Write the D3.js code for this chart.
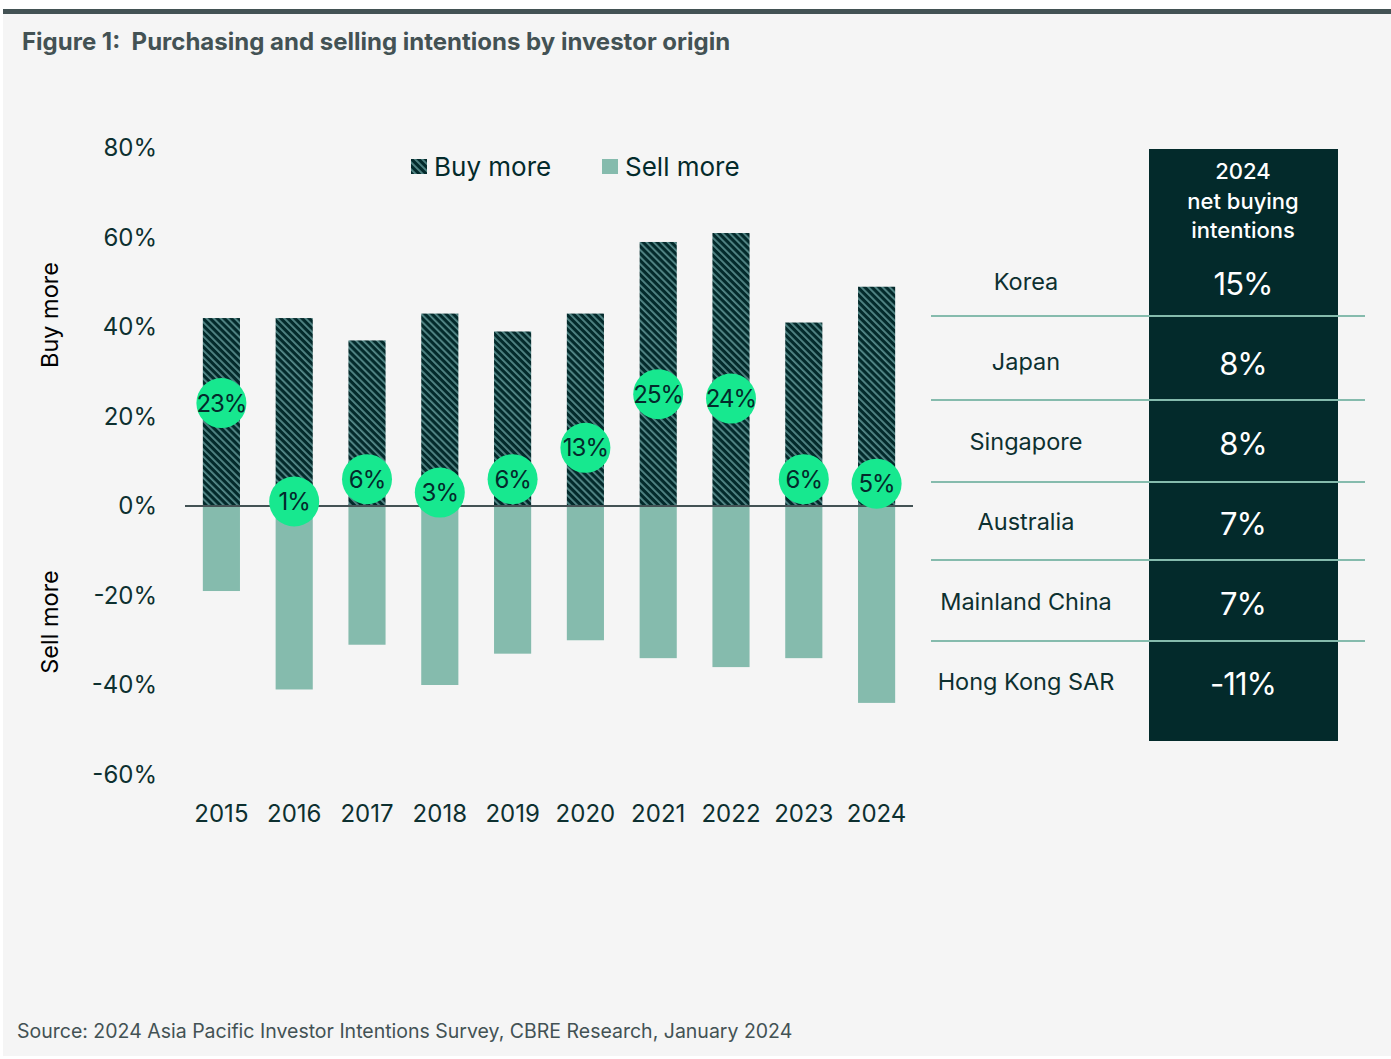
<!DOCTYPE html>
<html><head><meta charset="utf-8">
<script src="https://cdn.jsdelivr.net/npm/d3@7/dist/d3.min.js"></script>
<style>
html,body{margin:0;padding:0;background:#fff;}
svg{display:block;font-family:Inter,Roboto,"Noto Sans",sans-serif;}
</style></head>
<body>
<script>
const years = ["2015","2016","2017","2018","2019","2020","2021","2022","2023","2024"];
const buyMore = [42,42,37,43,39,43,59,61,41,49];
const sellMore = [-19,-41,-31,-40,-33,-30,-34,-36,-34,-44];
const netLabels = [23,1,6,3,6,13,25,24,6,5];
const yTicks = [80,60,40,20,0,-20,-40,-60];
const origins = ["Korea","Japan","Singapore","Australia","Mainland China","Hong Kong SAR"];
const netBuying2024 = [15,8,8,7,7,-11];
const tableHeader = ["2024","net buying","intentions"];

const W = 1391, H = 1059;
const svg = d3.select("body").append("svg").attr("width", W).attr("height", H);

// background
svg.append("rect").attr("x",3).attr("y",9).attr("width",W-3).attr("height",H-12).attr("fill","#f5f5f5");
svg.append("rect").attr("x",3).attr("y",9).attr("width",W-3).attr("height",5).attr("fill","#435254");

// title
svg.append("text").attr("x",22).attr("y",50).attr("font-size",24).attr("font-weight",700)
  .attr("fill","#435254").attr("xml:space","preserve").text("Figure 1:  Purchasing and selling intentions by investor origin");

// pattern
const defs = svg.append("defs");
const pat = defs.append("pattern").attr("id","hatch").attr("patternUnits","userSpaceOnUse")
  .attr("width",5).attr("height",5).attr("patternTransform","rotate(-45)");
pat.append("rect").attr("width",5).attr("height",5).attr("fill","#032a2b");
pat.append("rect").attr("x",0).attr("width",1.8).attr("height",5).attr("fill","#568a8a");

const x = d3.scaleBand().domain(years).range([185,913]).paddingInner(0.49).paddingOuter(0.245);
const y = d3.scaleLinear().domain([-60,80]).range([774.5,148]);

// y tick labels
const yAxis = d3.axisLeft(y).tickValues(yTicks).tickFormat(d => d + "%").tickSize(0).tickPadding(0);
const ya = svg.append("g").attr("transform","translate(157,0)").call(yAxis);
ya.select(".domain").remove();
ya.selectAll("text").attr("font-size",24).attr("fill","#0d3030").attr("font-family","Inter,sans-serif");

// axis titles
svg.append("text").attr("transform","translate(58,315) rotate(-90)").attr("text-anchor","middle")
  .attr("font-size",23.5).attr("fill","#000").text("Buy more");
svg.append("text").attr("transform","translate(58,622) rotate(-90)").attr("text-anchor","middle")
  .attr("font-size",23.5).attr("fill","#000").text("Sell more");

// bars
const data = years.map((yr,i)=>({yr, buy:buyMore[i], sell:sellMore[i], net:netLabels[i]}));
svg.append("g").selectAll("rect").data(data).join("rect")
  .attr("x", d=>x(d.yr)).attr("width", x.bandwidth())
  .attr("y", d=>y(d.buy)).attr("height", d=>y(0)-y(d.buy)).attr("fill","url(#hatch)");
svg.append("g").selectAll("rect").data(data).join("rect")
  .attr("x", d=>x(d.yr)).attr("width", x.bandwidth())
  .attr("y", y(0)).attr("height", d=>y(d.sell)-y(0)).attr("fill","#85bbad");

// zero line
svg.append("line").attr("x1",185).attr("x2",913).attr("y1",y(0)).attr("y2",y(0))
  .attr("stroke","#435254").attr("stroke-width",2);

// x axis labels
const xAxis = d3.axisBottom(x).tickSize(0).tickPadding(0);
const xa = svg.append("g").attr("transform","translate(0,803)").call(xAxis);
xa.select(".domain").remove();
xa.selectAll("text").attr("font-size",24).attr("fill","#0d3030").attr("dy","0.8em").attr("font-family","Inter,sans-serif");

// net circles
const circ = svg.append("g").selectAll("g").data(data).join("g")
  .attr("transform", d=>`translate(${x(d.yr)+x.bandwidth()/2},${y(d.net)})`);
circ.append("circle").attr("r",25).attr("fill","#17e88f");
circ.append("text").attr("text-anchor","middle").attr("dy","0.36em").attr("font-size",24)
  .attr("letter-spacing",-1).attr("fill","#032a2b").text(d=>d.net+"%");

// legend
const leg = svg.append("g");
leg.append("rect").attr("x",411).attr("y",159).attr("width",16).attr("height",15).attr("fill","url(#hatch)");
leg.append("text").attr("x",434).attr("y",176).attr("font-size",26).attr("fill","#032a2b").text("Buy more");
leg.append("rect").attr("x",602).attr("y",159).attr("width",16).attr("height",15).attr("fill","#85bbad");
leg.append("text").attr("x",625).attr("y",176).attr("font-size",26).attr("fill","#032a2b").text("Sell more");

// table
svg.append("rect").attr("x",1149).attr("y",149).attr("width",189).attr("height",592).attr("fill","#032a2b");
svg.append("g").selectAll("text").data(tableHeader).join("text")
  .attr("x",1243).attr("y",(d,i)=>179+i*29.5).attr("text-anchor","middle")
  .attr("font-size",22).attr("font-weight",500).attr("fill","#fff").text(d=>d);

const rowY = d3.scalePoint().domain(origins).range([282,682]);
const lineYs = [316,400,482,560,641];
svg.append("g").selectAll("line").data(lineYs).join("line")
  .attr("x1",931).attr("x2",1365).attr("y1",d=>d).attr("y2",d=>d)
  .attr("stroke","#85bbad").attr("stroke-width",2);
svg.append("g").selectAll("text").data(origins).join("text")
  .attr("x",1026).attr("y",d=>rowY(d)).attr("dy","0.36em").attr("text-anchor","middle")
  .attr("font-size",23.5).attr("fill","#0d3030").text(d=>d);
svg.append("g").selectAll("text").data(origins).join("text")
  .attr("x",1243).attr("y",d=>rowY(d)+2).attr("dy","0.36em").attr("text-anchor","middle")
  .attr("font-size",31).attr("fill","#fff").attr("letter-spacing",-1).text((d,i)=>netBuying2024[i]+"%");

// source
svg.append("text").attr("x",17).attr("y",1038).attr("font-size",19.5).attr("fill","#435254")
  .text("Source: 2024 Asia Pacific Investor Intentions Survey, CBRE Research, January 2024");
</script>
</body></html>
